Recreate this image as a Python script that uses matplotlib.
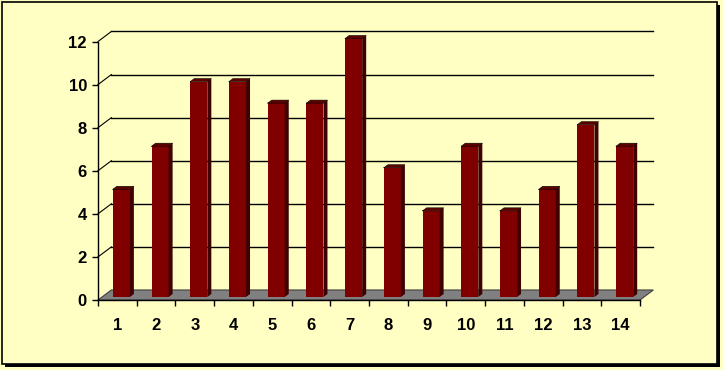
import matplotlib
matplotlib.use("Agg")
import matplotlib.pyplot as plt
from matplotlib.patches import Polygon, Rectangle
import numpy as np

categories = ["1", "2", "3", "4", "5", "6", "7", "8", "9", "10", "11", "12", "13", "14"]
values = [5, 7, 10, 10, 9, 9, 12, 6, 4, 7, 4, 5, 8, 7]
y_ticks = [0, 2, 4, 6, 8, 10, 12]

BG = "#FFFFC4"
FRONT = "#800000"
SIDE = "#3E0000"
TOP = "#5E0000"
FLOOR = "#808080"

W, H = 723, 370
fig = plt.figure(figsize=(W / 100, H / 100), dpi=100)
fig.patch.set_facecolor(BG)

def fx(px):
    return px / W

def fy(py):
    return 1 - py / H

# frame with shadow
fig.patches.append(Rectangle((fx(5), fy(367)), fx(720) - fx(5), fy(5) - fy(367),
                             transform=fig.transFigure, facecolor="black", edgecolor="none", zorder=-2))
fig.patches.append(Rectangle((fx(2), fy(364)), fx(717) - fx(2), fy(2) - fy(364),
                             transform=fig.transFigure, facecolor=BG, edgecolor="black", linewidth=1.2, zorder=-1))

ax = fig.add_axes([fx(98), fy(300), fx(640) - fx(98), fy(41.5) - fy(300)])
ax.set_zorder(2)
ax.set_facecolor("none")
n = len(categories)
ax.set_xlim(0, n)
ax.set_ylim(0, 12)

dx, dy = 0.345, 0.465  # depth offset in data units

# floor
ax.add_patch(Polygon([(0, 0), (n, 0), (n + dx, dy), (dx, dy)], closed=True,
                     facecolor=FLOOR, edgecolor="#404040", linewidth=0.8, zorder=1, clip_on=False))

# gridlines: back wall and left wall
for v in y_ticks[1:]:
    ax.plot([dx, n + dx], [v + dy, v + dy], color="black", linewidth=1.0, zorder=1, clip_on=False)
    ax.plot([0, dx], [v, v + dy], color="black", linewidth=0.8, zorder=1, clip_on=False)

# bars
bw = 0.44
f0, f1 = 0.3, 0.6
x = np.arange(n) + 0.5
ox, oy = f0 * dx, f0 * dy
ddx, ddy = (f1 - f0) * dx, (f1 - f0) * dy
ax.bar(x + ox, values, width=bw, bottom=oy, color=FRONT, edgecolor="none", zorder=3, clip_on=False)
for xi, v in zip(x, values):
    l = xi + ox - bw / 2
    r = xi + ox + bw / 2
    b = oy
    t = oy + v
    ax.add_patch(Polygon([(r, b), (r + ddx, b + ddy), (r + ddx, t + ddy), (r, t)], closed=True,
                         facecolor=SIDE, edgecolor="none", zorder=3, clip_on=False))
    ax.add_patch(Polygon([(l, t), (r, t), (r + ddx, t + ddy), (l + ddx, t + ddy)], closed=True,
                         facecolor=TOP, edgecolor="none", zorder=3, clip_on=False))
    ax.plot([l, r, r + ddx, l + ddx, l], [t, t, t + ddy, t + ddy, t], color="black", linewidth=0.4, zorder=4, clip_on=False)

for s in ["top", "right"]:
    ax.spines[s].set_visible(False)
for s in ["left", "bottom"]:
    ax.spines[s].set_color("black")
    ax.spines[s].set_linewidth(1.0)
    ax.spines[s].set_zorder(5)

ax.set_yticks(y_ticks)
ax.set_yticklabels([str(v) for v in y_ticks])
ax.set_xticks(x)
ax.set_xticklabels(categories)
ax.set_xticks(np.arange(n + 1), minor=True)
ax.tick_params(axis="x", which="major", length=0, pad=13)
ax.tick_params(axis="x", which="minor", length=4, direction="out", width=1)
ax.tick_params(axis="y", length=4, direction="out", width=1, pad=4)
for lab in ax.get_xticklabels() + ax.get_yticklabels():
    lab.set_fontfamily("Liberation Sans")
    lab.set_fontsize(12)
    lab.set_fontweight("bold")
    lab.set_color("black")

fig.savefig("out.png", dpi=100, facecolor=BG)
